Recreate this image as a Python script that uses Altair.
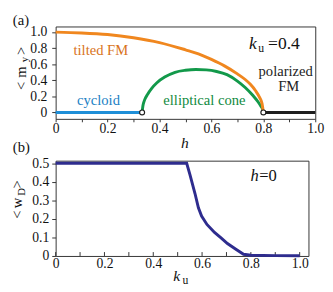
import altair as alt
import pandas as pd

# ---------------- data ----------------
h_cycloid = [0.0, 0.333]
m_cycloid = [0.0, 0.0]

h_cone = [0.333, 0.336, 0.342, 0.355, 0.37, 0.39, 0.42, 0.46, 0.5, 0.54, 0.58,
          0.62, 0.66, 0.7, 0.73, 0.76, 0.78, 0.79, 0.797, 0.8]
m_cone = [0.0, 0.08, 0.15, 0.23, 0.30, 0.37, 0.44, 0.50, 0.525, 0.535, 0.53,
          0.51, 0.47, 0.39, 0.31, 0.21, 0.13, 0.08, 0.04, 0.0]

h_tilted = [0.0, 0.1, 0.2, 0.3, 0.4, 0.5, 0.55, 0.6, 0.65, 0.7, 0.73, 0.75,
            0.77, 0.785, 0.795, 0.8]
m_tilted = [1.0, 0.99, 0.97, 0.93, 0.87, 0.78, 0.73, 0.66, 0.58, 0.48, 0.41,
            0.35, 0.27, 0.19, 0.11, 0.0]

h_polar = [0.8, 1.0]
m_polar = [0.0, 0.0]

h_open = [0.333, 0.8]
m_open = [0.0, 0.0]

ku = [0.0, 0.1, 0.2, 0.3, 0.4, 0.5, 0.537, 0.55, 0.571, 0.585, 0.598, 0.62,
      0.651, 0.68, 0.704, 0.74, 0.77, 0.8, 0.9, 1.0]
wd = [0.5, 0.5, 0.5, 0.5, 0.5, 0.5, 0.5, 0.44, 0.337, 0.26, 0.215, 0.17,
      0.127, 0.095, 0.067, 0.035, 0.009, 0.004, 0.002, 0.001]

x_ticks = [0.0, 0.1, 0.2, 0.3, 0.4, 0.5, 0.6, 0.7, 0.8, 0.9, 1.0]
m_ticks = [0.0, 0.2, 0.4, 0.6, 0.8, 1.0]
w_ticks = [0.0, 0.1, 0.2, 0.3, 0.4, 0.5]

FONT = "Liberation Serif"
ORANGE = "#F0871F"
GREEN = "#12994A"
BLUE = "#1F8FD8"
BLACK = "#1E1E1E"
NAVY = "#2E2C8E"
FRAME = "#333333"

LBL_X = ("round(datum.value*10) % 2 == 0 ? (datum.value == 0 ? '0' : "
         "format(datum.value, '.1f')) : ''")
LBL_Y = "datum.value == 0 ? '0' : format(datum.value, '.1f')"

# ---------------- scales / axes ----------------
xs_a = alt.Scale(domain=[0, 1], nice=False, zero=False)
ys_a = alt.Scale(domain=[-0.08, 1.07], nice=False, zero=False)
xs_b = alt.Scale(domain=[0, 1.036], nice=False, zero=False)
ys_b = alt.Scale(domain=[0, 0.514], nice=False, zero=False)

common = dict(labelFont=FONT, labelFontSize=14, labelColor="#111",
              tickColor=FRAME, domain=False, grid=False, title=None,
              labelOverlap=False)

ax_xa = alt.Axis(values=x_ticks, labelExpr=LBL_X, tickSize=3, labelPadding=0,
                 labelFlush=False, **common)
ax_ya = alt.Axis(values=m_ticks, labelExpr=LBL_Y, tickSize=4, labelPadding=5,
                 **common)
ax_xb = alt.Axis(values=x_ticks, labelExpr=LBL_X, ticks=False, tickSize=0,
                 labelPadding=1, labelFlush=False, **common)
ax_yb = alt.Axis(values=w_ticks, labelExpr=LBL_Y, tickSize=4, labelPadding=3,
                 **common)


def xa(f="x"):
    return alt.X(f"{f}:Q", scale=xs_a, axis=ax_xa)


def ya(f="y"):
    return alt.Y(f"{f}:Q", scale=ys_a, axis=ax_ya)


def xb(f="x"):
    return alt.X(f"{f}:Q", scale=xs_b, axis=ax_xb)


def yb(f="y"):
    return alt.Y(f"{f}:Q", scale=ys_b, axis=ax_yb)


def line_a(h, v, color):
    df = pd.DataFrame({"x": h, "y": v})
    return alt.Chart(df).mark_line(color=color, strokeWidth=3,
                                   interpolate="monotone").encode(x=xa(), y=ya())


def note_a(text, x, y, color, size=15, align="center", style="normal"):
    df = pd.DataFrame({"x": [x], "y": [y], "t": [text]})
    return alt.Chart(df).mark_text(font=FONT, fontSize=size, color=color,
                                   align=align, baseline="alphabetic",
                                   fontStyle=style).encode(x=xa(), y=ya(), text="t:N")


def note_b(text, x, y, color, size=15, align="center", style="normal"):
    df = pd.DataFrame({"x": [x], "y": [y], "t": [text]})
    return alt.Chart(df).mark_text(font=FONT, fontSize=size, color=color,
                                   align=align, baseline="alphabetic",
                                   fontStyle=style).encode(x=xb(), y=yb(), text="t:N")


one = pd.DataFrame({"a": [0]})


def px_text(text, px, py, size=15, align="left", baseline="alphabetic",
            angle=0, style="normal", color="#111", opacity=1):
    return alt.Chart(one).mark_text(text=text, font=FONT, fontSize=size, color=color,
                                    align=align, baseline=baseline, angle=angle,
                                    fontStyle=style, opacity=opacity).encode(
        x=alt.value(px), y=alt.value(py))


# ---------------- panel (a) ----------------
open_df = pd.DataFrame({"x": h_open, "y": m_open})
open_pts = alt.Chart(open_df).mark_point(shape="circle", filled=True, fill="white",
                                         stroke=BLACK, strokeWidth=1.2, size=26,
                                         opacity=1).encode(x=xa(), y=ya())

panel_a = alt.layer(
    line_a(h_cycloid, m_cycloid, BLUE),
    line_a(h_polar, m_polar, BLACK),
    line_a(h_cone, m_cone, GREEN),
    line_a(h_tilted, m_tilted, ORANGE),
    open_pts,
    note_a("tilted FM", 0.174, 0.72, "#D9741A"),
    note_a("cycloid", 0.165, 0.09, "#1A7FC4"),
    note_a("elliptical cone", 0.573, 0.09, "#0F8A40"),
    note_a("polarized", 0.886, 0.45, "#222"),
    note_a("FM", 0.898, 0.27, "#222"),
    note_a("k", 0.745, 0.79, "#111", size=18, align="left", style="italic"),
    note_a("u", 0.78, 0.755, "#111", size=12, align="left"),
    note_a("=0.4", 0.818, 0.79, "#111", size=18, align="left"),
    # panel letters, axis titles
    px_text("(a)", -44, -14, size=15, baseline="top"),
    px_text("(b)", -44, 117, size=15, baseline="top"),
    px_text("h", 133, 125, size=16, align="center", style="italic"),
    px_text(">", -36, 25, size=15, align="center", baseline="middle", angle=270),
    px_text("y", -31, 34, size=11, align="center", baseline="middle", angle=270),
    px_text("m", -36, 47, size=15, align="center", baseline="middle", angle=270),
    px_text("<", -36, 61, size=15, align="center", baseline="middle", angle=270),
).properties(width=267, height=95)

# ---------------- panel (b) ----------------
wd_df = pd.DataFrame({"x": ku, "y": wd})
wd_line = alt.Chart(wd_df).mark_line(color=NAVY, strokeWidth=3).encode(x=xb(), y=yb())

tick_df = pd.DataFrame({"t": x_ticks})
inner_ticks = alt.Chart(tick_df).mark_rule(color=FRAME, strokeWidth=1).encode(
    x=alt.X("t:Q", scale=xs_b, axis=ax_xb), y=alt.value(98), y2=alt.value(94))

panel_b = alt.layer(
    inner_ticks,
    wd_line,
    note_b("h", 0.798, 0.404, "#111", size=17, align="left", style="italic"),
    note_b("=0", 0.834, 0.404, "#111", size=17, align="left"),
    px_text(" ", -48, 40, size=10, opacity=0),
    px_text("k", 121, 124, size=16, style="italic"),
    px_text("u", 130.5, 127, size=12),
    px_text(">", -40, 24.5, size=15, align="center", baseline="middle", angle=270),
    px_text("D", -35, 32, size=11, align="center", baseline="middle", angle=270),
    px_text("w", -40, 43.5, size=15, align="center", baseline="middle", angle=270),
    px_text("<", -40, 55.5, size=15, align="center", baseline="middle", angle=270),
).properties(width=260, height=98)

chart = alt.concat(panel_a, panel_b, columns=1, spacing=0, align="none",
                   bounds="full").properties(padding=0, background="white"
                   ).configure_view(stroke=FRAME, strokeWidth=1)

chart.save("out.html", embed_options={"renderer": "svg", "actions": False})
